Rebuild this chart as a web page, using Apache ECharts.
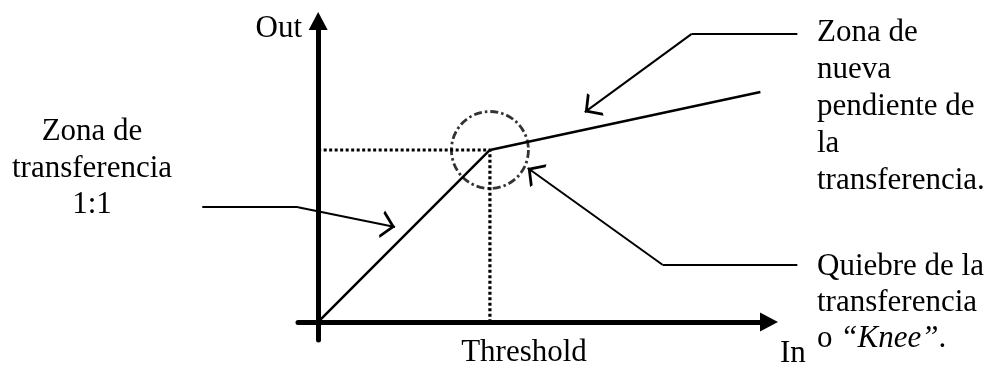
<!DOCTYPE html>
<html>
<head>
<meta charset="utf-8">
<script src="https://cdn.jsdelivr.net/npm/echarts@6/dist/echarts.min.js"></script>
<style>
    html, body {margin:0;padding:0;background:#ffffff;}
    #chart {width:990px;height:365px;}
</style>
</head>
<body>
<div id="chart"></div>
<script>
    // curva de transferencia (In -> Out)
    var curveIn = [0, 4, 10.3];
    var curveOut = [0, 4, 5.35];
    var kneeIn = 4;
    var kneeOut = 4;

    // flechas de las notas: inicio, codo, punta
    var calloutStart = [[-2.7, 2.67], [11.16, 6.70], [11.16, 1.33]];
    var calloutBend = [[-0.47, 2.67], [8.70, 6.70], [8.02, 1.33]];
    var calloutTip = [[1.79, 2.21], [6.21, 4.88], [4.88, 3.58]];

    // textos
    var leftNote = ['Zona de', 'transferencia', '1:1'];
    var slopeNote = ['Zona de', 'nueva', 'pendiente de', 'la', 'transferencia.'];
    var kneeNote = ['Quiebre de la', 'transferencia', '{n|o }{i|\u201cKnee\u201d}{n|.}'];
    var axisNames = ['In', 'Out'];
    var thresholdName = 'Threshold';

    var chart = echarts.init(document.getElementById('chart'));

    var serif = 'Liberation Serif, Times New Roman, serif';
    var font = '31px ' + serif;

    var curveData = curveIn.map(function (v, i) {
        return [v, curveOut[i]];
    });

    var tails = calloutStart.map(function (p, i) {
        return {coords: [p, calloutBend[i]]};
    });
    var heads = calloutBend.map(function (p, i) {
        return {coords: [p, calloutTip[i]]};
    });

    // punta de flecha abierta, con la punta en el centro de la caja
    var openArrow = 'path://M8,-14.05L8.01,-14.05Z M8,0L16,13L14.3,14.05L8,3.8L1.7,14.05L0,13Z';

    var axisCommon = {
        type: 'value',
        splitLine: {show: false},
        axisTick: {show: false},
        axisLabel: {show: false},
        axisLine: {
            onZero: true,
            symbol: ['none', 'triangle'],
            symbolSize: [19, 18],
            lineStyle: {color: '#000', width: 5}
        }
    };

    var option = {
        animation: false,
        backgroundColor: '#ffffff',
        grid: {left: 298, right: 221, top: 21, bottom: 25},
        xAxis: Object.assign({}, axisCommon, {min: -0.47, max: 10.5}),
        yAxis: Object.assign({}, axisCommon, {min: -0.42, max: 7}),
        series: [
            {
                type: 'line',
                data: [[0, kneeOut], [kneeIn, kneeOut], [kneeIn, 0]],
                showSymbol: false,
                lineStyle: {color: '#000', width: 3.2, type: [3, 2.5]},
                z: 2
            },
            {
                type: 'line',
                data: curveData,
                showSymbol: false,
                lineStyle: {color: '#000', width: 2.5},
                z: 3
            },
            {
                type: 'scatter',
                data: [[kneeIn, kneeOut]],
                symbol: 'circle',
                symbolSize: 77,
                itemStyle: {
                    color: 'rgba(0,0,0,0)',
                    borderColor: '#000',
                    borderWidth: 2.8,
                    borderType: [8, 3, 2.5, 3]
                },
                z: 4
            },
            {
                type: 'lines',
                coordinateSystem: 'cartesian2d',
                clip: false,
                symbol: ['none', 'none'],
                lineStyle: {color: '#000', width: 2, opacity: 1},
                data: tails,
                z: 5
            },
            {
                type: 'lines',
                coordinateSystem: 'cartesian2d',
                clip: false,
                symbol: ['none', openArrow],
                symbolSize: [16, 28.1],
                lineStyle: {color: '#000', width: 2, opacity: 1},
                data: heads,
                z: 5
            }
        ],
        graphic: [
            {
                type: 'text', x: 92, y: 114,
                style: {text: leftNote.join('\n'), font: font, fill: '#000', align: 'center', verticalAlign: 'top', lineHeight: 36.5}
            },
            {
                type: 'text', x: 817, y: 14,
                style: {text: slopeNote.join('\n'), font: font, fill: '#000', align: 'left', verticalAlign: 'top', lineHeight: 37}
            },
            {
                type: 'text', x: 817, y: 249,
                style: {
                    text: kneeNote.join('\n'), font: font, fill: '#000', align: 'left', verticalAlign: 'top', lineHeight: 36,
                    rich: {
                        n: {fontFamily: serif, fontSize: 31, lineHeight: 36, fill: '#000'},
                        i: {fontFamily: serif, fontSize: 31, fontStyle: 'italic', lineHeight: 36, fill: '#000'}
                    }
                }
            },
            {
                type: 'text', x: 302, y: 28.5,
                style: {text: axisNames[1], font: font, fill: '#000', align: 'right', verticalAlign: 'middle'}
            },
            {
                type: 'text', x: 780, y: 354,
                style: {text: axisNames[0], font: font, fill: '#000', align: 'left', verticalAlign: 'middle'}
            },
            {
                type: 'text', x: 524, y: 353,
                style: {text: thresholdName, font: font, fill: '#000', align: 'center', verticalAlign: 'middle'}
            }
        ]
    };

    chart.setOption(option);
</script>
</body>
</html>
